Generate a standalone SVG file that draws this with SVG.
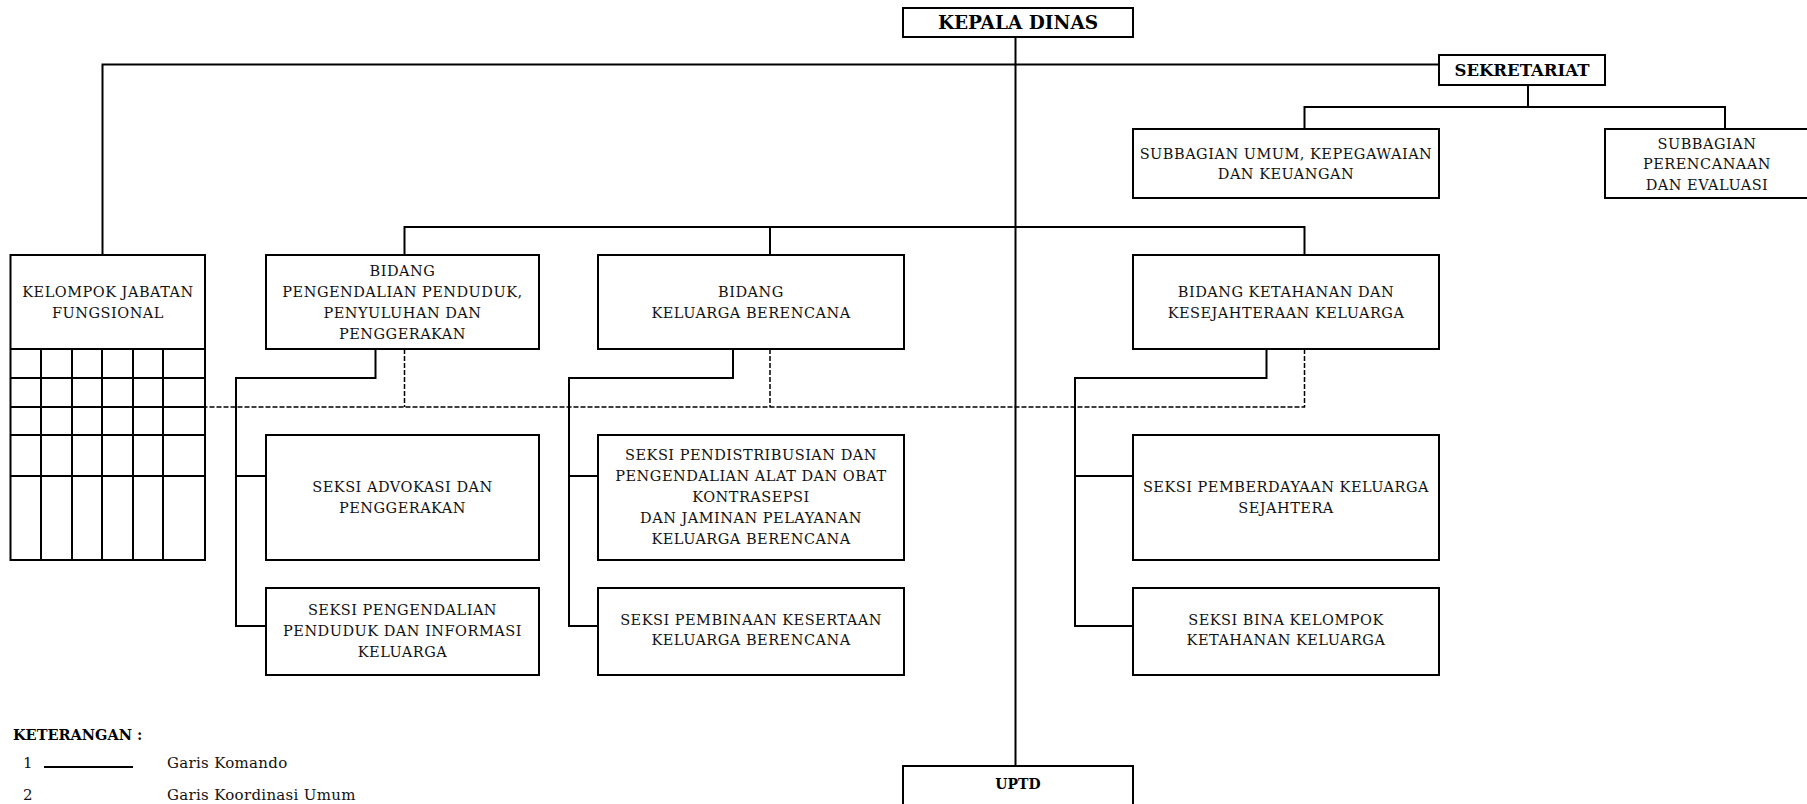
<svg xmlns="http://www.w3.org/2000/svg" width="1807" height="804" viewBox="0 0 1807 804">
<style>
.box{fill:#fff;stroke:#000;stroke-width:2}
.ln{fill:none;stroke:#000;stroke-width:2}
.dash{fill:none;stroke:#000;stroke-width:1.5;stroke-dasharray:5 2}
.t{font-family:"DejaVu Serif","Liberation Serif",serif;font-size:14.5px;letter-spacing:0.5px;text-anchor:middle;fill:#111}
.b{font-family:"DejaVu Serif","Liberation Serif",serif;font-weight:bold;text-anchor:middle;fill:#000}
.lg{font-family:"DejaVu Serif","Liberation Serif",serif;font-size:15px;letter-spacing:0.3px;fill:#111}
</style>
<rect width="1807" height="804" fill="#fff"/>
<g id="connectors">
<path class="ln" d="M1015.5 37V766"/>
<path class="ln" d="M102.5 255V64.5H1439"/>
<path class="ln" d="M1528 85V107M1304.5 129V107H1725V129"/>
<path class="ln" d="M404.5 255V227H1304.5V255M770 227V255"/>
<path class="ln" d="M375.5 349V378H236V626H266M236 476H266"/>
<path class="ln" d="M733 349V378H569V626H598M569 476H598"/>
<path class="ln" d="M1266.5 349V378H1075V626H1133M1075 476H1133"/>
<path class="dash" d="M404.5 349V407M770 349V407M1304.5 349V407H205"/>
</g>
<g id="kepala-dinas">
<rect class="box" x="903" y="8" width="230" height="29"/>
<text class="b" x="1018" y="29" font-size="18.5">KEPALA DINAS</text>
</g>
<g id="sekretariat">
<rect class="box" x="1439" y="55" width="166" height="30"/>
<text class="b" x="1522" y="76" font-size="16.5">SEKRETARIAT</text>
</g>
<g id="subbagian-umum">
<rect class="box" x="1133" y="129" width="306" height="69"/>
<text class="t" x="1286"><tspan x="1286" y="158.5">SUBBAGIAN UMUM, KEPEGAWAIAN</tspan><tspan x="1286" y="179">DAN KEUANGAN</tspan></text>
</g>
<g id="subbagian-perencanaan">
<rect class="box" x="1605" y="129" width="206" height="69"/>
<text class="t" x="1707"><tspan x="1707" y="148.5">SUBBAGIAN</tspan><tspan x="1707" y="169">PERENCANAAN</tspan><tspan x="1707" y="190">DAN EVALUASI</tspan></text>
</g>
<g id="kelompok-jabatan-fungsional">
<rect class="box" x="10.5" y="255" width="194.5" height="305"/>
<path class="ln" d="M10.5 349H205M10.5 378H205M10.5 407H205M10.5 435H205M10.5 476H205M41 349V560M72 349V560M102 349V560M133 349V560M163 349V560"/>
<text class="t" x="108"><tspan x="108" y="297">KELOMPOK JABATAN</tspan><tspan x="108" y="317.5">FUNGSIONAL</tspan></text>
</g>
<g id="bidang-pengendalian">
<rect class="box" x="266" y="255" width="273" height="94"/>
<text class="t" x="402.5"><tspan x="402.5" y="276">BIDANG</tspan><tspan x="402.5" y="297">PENGENDALIAN PENDUDUK,</tspan><tspan x="402.5" y="318">PENYULUHAN DAN</tspan><tspan x="402.5" y="338.5">PENGGERAKAN</tspan></text>
</g>
<g id="bidang-kb">
<rect class="box" x="598" y="255" width="306" height="94"/>
<text class="t" x="751"><tspan x="751" y="297">BIDANG</tspan><tspan x="751" y="317.5">KELUARGA BERENCANA</tspan></text>
</g>
<g id="bidang-ketahanan">
<rect class="box" x="1133" y="255" width="306" height="94"/>
<text class="t" x="1286"><tspan x="1286" y="297">BIDANG KETAHANAN DAN</tspan><tspan x="1286" y="317.5">KESEJAHTERAAN KELUARGA</tspan></text>
</g>
<g id="seksi-advokasi">
<rect class="box" x="266" y="435" width="273" height="125"/>
<text class="t" x="402.5"><tspan x="402.5" y="492">SEKSI ADVOKASI DAN</tspan><tspan x="402.5" y="512.5">PENGGERAKAN</tspan></text>
</g>
<g id="seksi-pengendalian">
<rect class="box" x="266" y="588" width="273" height="87"/>
<text class="t" x="402.5"><tspan x="402.5" y="615">SEKSI PENGENDALIAN</tspan><tspan x="402.5" y="636">PENDUDUK DAN INFORMASI</tspan><tspan x="402.5" y="657">KELUARGA</tspan></text>
</g>
<g id="seksi-pendistribusian">
<rect class="box" x="598" y="435" width="306" height="125"/>
<text class="t" x="751"><tspan x="751" y="460">SEKSI PENDISTRIBUSIAN DAN</tspan><tspan x="751" y="481">PENGENDALIAN ALAT DAN OBAT</tspan><tspan x="751" y="502">KONTRASEPSI</tspan><tspan x="751" y="523">DAN JAMINAN PELAYANAN</tspan><tspan x="751" y="544">KELUARGA BERENCANA</tspan></text>
</g>
<g id="seksi-pembinaan">
<rect class="box" x="598" y="588" width="306" height="87"/>
<text class="t" x="751"><tspan x="751" y="624.5">SEKSI PEMBINAAN KESERTAAN</tspan><tspan x="751" y="645">KELUARGA BERENCANA</tspan></text>
</g>
<g id="seksi-pemberdayaan">
<rect class="box" x="1133" y="435" width="306" height="125"/>
<text class="t" x="1286"><tspan x="1286" y="492">SEKSI PEMBERDAYAAN KELUARGA</tspan><tspan x="1286" y="512.5">SEJAHTERA</tspan></text>
</g>
<g id="seksi-bina">
<rect class="box" x="1133" y="588" width="306" height="87"/>
<text class="t" x="1286"><tspan x="1286" y="624.5">SEKSI BINA KELOMPOK</tspan><tspan x="1286" y="645">KETAHANAN KELUARGA</tspan></text>
</g>
<g id="uptd">
<rect class="box" x="903" y="766" width="230" height="50"/>
<text class="b" x="1018" y="789" font-size="14">UPTD</text>
</g>
<g id="legend">
<text class="b" x="13" y="740" font-size="14.5" style="text-anchor:start">KETERANGAN :</text>
<text class="lg" x="23" y="768">1</text>
<path class="ln" d="M44 767H133"/>
<text class="lg" x="167" y="768">Garis Komando</text>
<text class="lg" x="23" y="800">2</text>
<text class="lg" x="167" y="800">Garis Koordinasi Umum</text>
</g>
</svg>
